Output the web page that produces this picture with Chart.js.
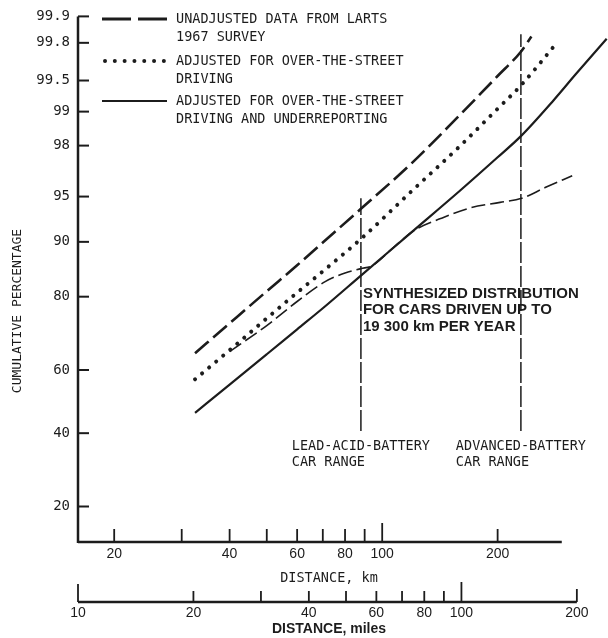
<!DOCTYPE html>
<html>
<head>
<meta charset="utf-8">
<script src="https://cdn.jsdelivr.net/npm/chart.js@4.4.1/dist/chart.umd.min.js"></script>
<style>
  html, body { margin: 0; padding: 0; background: #fff; }
  canvas { display: block; }
</style>
</head>
<body>
<canvas id="chart" width="608" height="638"></canvas>
<script>
const KM_PER_MILE = 1.609344;

const KM_TICKS = [20, 30, 40, 50, 60, 70, 80, 90, 100, 200];
const KM_LABELS = [20, 40, 60, 80, 100, 200];
const MILE_TICKS = [10, 20, 30, 40, 50, 60, 70, 80, 90, 100, 200];
const MILE_LABELS = [10, 20, 40, 60, 80, 100, 200];
const PCT_TICKS = [20, 40, 60, 80, 90, 95, 98, 99, 99.5, 99.8, 99.9];

// unadjusted data from LARTS 1967 survey (long dashes)
const lartsKm = [32.5, 40, 50, 60, 70, 88, 120, 160, 200, 230, 245];
const lartsPct = [65.1, 73.5, 81.2, 86.3, 89.9, 93.9, 97.25, 98.94, 99.55, 99.75, 99.83];
// adjusted for over-the-street driving (dots)
const streetKm = [32.5, 40, 50, 60, 70, 88, 120, 160, 200, 230, 280, 288];
const streetPct = [57.1, 66.0, 74.8, 80.9, 85.2, 90.4, 95.5, 98.0, 99.06, 99.44, 99.78, 99.81];
// adjusted for over-the-street driving and underreporting (solid)
const underKm = [32.5, 40, 50, 60, 70, 88, 120, 160, 200, 230, 280, 320, 385];
const underPct = [46.4, 55.4, 64.8, 71.9, 77.3, 84.4, 91.4, 95.5, 97.5, 98.34, 99.22, 99.57, 99.82];
// synthesized distribution for cars driven up to 19 300 km per year (thin dashes)
const synthKm = [40, 50, 60, 71, 80, 88, 94, 108, 122, 142, 170, 203, 231, 266, 313];
const synthPct = [65.6, 72.9, 78.9, 83.2, 84.9, 85.7, 86.2, 89.4, 91.6, 92.9, 94.0, 94.5, 94.85, 95.7, 96.5];
// battery car ranges (lead-acid, advanced)
const rangeKm = [88, 230];
const rangeTopPct = [94.85, 99.84];
const rangeBottomPct = 40.7;

const MIN_MILES = 10;
const MAX_KM = 328;
const KM_AXIS_END = 294;
const MILE_AXIS_END = 200;
const PCT_MIN = 13;
const PCT_MAX = 99.9;

const INK = "#1c1c1c";
const MONO = '"DejaVu Sans Mono", monospace';
const SANS = '"Liberation Sans", Arial, sans-serif';

// inverse normal CDF (Acklam) for the probability-paper y axis
const probit = (p) => {
  const a = [-39.69683028665376, 220.9460984245205, -275.9285104469687, 138.357751867269, -30.66479806614716, 2.506628277459239];
  const b = [-54.47609879822406, 161.5858368580409, -155.6989798598866, 66.80131188771972, -13.28068155288572];
  const c = [-0.007784894002430293, -0.3223964580411365, -2.400758277161838, -2.549732539343734, 4.374664141464968, 2.938163982698783];
  const d = [0.007784695709041462, 0.3224671290700398, 2.445134137142996, 3.754408661907416];
  const lo = 0.02425;
  if (p < lo || p > 1 - lo) {
    const q = Math.sqrt(-2 * Math.log(p < lo ? p : 1 - p));
    const v = (((((c[0] * q + c[1]) * q + c[2]) * q + c[3]) * q + c[4]) * q + c[5]) /
      ((((d[0] * q + d[1]) * q + d[2]) * q + d[3]) * q + 1);
    return p < lo ? v : -v;
  }
  const q = p - 0.5, r = q * q;
  return (((((a[0] * r + a[1]) * r + a[2]) * r + a[3]) * r + a[4]) * r + a[5]) * q /
    (((((b[0] * r + b[1]) * r + b[2]) * r + b[3]) * r + b[4]) * r + 1);
};

const pts = (km, pct) => km.map((k, i) => ({ x: k, y: probit(pct[i] / 100) }));

const curve = {
  pointRadius: 0,
  borderColor: INK,
  fill: false,
  clip: false,
  cubicInterpolationMode: "monotone",
};

const rangeSets = rangeKm.map((k, i) => ({
  data: [{ x: k, y: probit(rangeBottomPct / 100) }, { x: k, y: probit(rangeTopPct[i] / 100) }],
  pointRadius: 0,
  borderColor: INK,
  borderWidth: 1.5,
  borderDash: [21, 3],
  tension: 0,
  clip: false,
}));

const line = (ctx, x1, y1, x2, y2) => {
  ctx.beginPath();
  ctx.moveTo(x1, y1);
  ctx.lineTo(x2, y2);
  ctx.stroke();
};

const paperPlugin = {
  id: "paper",
  afterDraw(chart) {
    const { ctx, chartArea: area, scales } = chart;
    const { x, x2, y } = scales;
    ctx.save();
    ctx.strokeStyle = INK;
    ctx.fillStyle = INK;

    // y axis + inward ticks
    ctx.lineWidth = 2.5;
    line(ctx, area.left, area.top, area.left, area.bottom + 1);
    ctx.lineWidth = 2;
    PCT_TICKS.forEach((p) => {
      const py = y.getPixelForValue(probit(p / 100));
      line(ctx, area.left, py, area.left + 11, py);
    });

    // km axis
    const kmY = area.bottom;
    ctx.lineWidth = 2.5;
    line(ctx, area.left, kmY, x.getPixelForValue(KM_AXIS_END), kmY);
    ctx.lineWidth = 1.8;
    KM_TICKS.forEach((v) => {
      const px = x.getPixelForValue(v);
      line(ctx, px, kmY, px, kmY - (v === 100 ? 19 : 13));
    });

    // miles axis
    const miY = x2.top + 14;
    ctx.lineWidth = 2.5;
    line(ctx, x2.getPixelForValue(MIN_MILES), miY, x2.getPixelForValue(MILE_AXIS_END), miY);
    ctx.lineWidth = 1.8;
    MILE_TICKS.forEach((v) => {
      const px = x2.getPixelForValue(v);
      const len = v === 100 ? 20 : v === 10 ? 18 : v === 200 ? 13 : 11;
      line(ctx, px, miY, px, miY - len);
    });

    // y title
    ctx.save();
    ctx.translate(18, 311);
    ctx.rotate(-Math.PI / 2);
    ctx.font = `13px ${MONO}`;
    ctx.textAlign = "center";
    ctx.textBaseline = "middle";
    ctx.fillText("CUMULATIVE PERCENTAGE", 0, 0);
    ctx.restore();

    // legend
    ctx.lineCap = "butt";
    ctx.lineWidth = 3.2;
    ctx.setLineDash([29, 7]);
    line(ctx, 102, 19, 167, 19);
    ctx.lineCap = "round";
    ctx.lineWidth = 4;
    ctx.setLineDash([0.01, 9.8]);
    line(ctx, 105, 61, 164, 61);
    ctx.lineCap = "butt";
    ctx.lineWidth = 2.2;
    ctx.setLineDash([]);
    line(ctx, 102, 101, 167, 101);

    ctx.font = `13.5px ${MONO}`;
    ctx.textAlign = "left";
    ctx.textBaseline = "middle";
    const legendText = [
      ["UNADJUSTED DATA FROM LARTS", 19], ["1967 SURVEY", 37],
      ["ADJUSTED FOR OVER-THE-STREET", 61], ["DRIVING", 79],
      ["ADJUSTED FOR OVER-THE-STREET", 101], ["DRIVING AND UNDERREPORTING", 119],
    ];
    legendText.forEach(([t, ty]) => ctx.fillText(t, 176, ty));

    // range labels, centred on the range lines
    const bottomY = y.getPixelForValue(probit(rangeBottomPct / 100));
    [["LEAD-ACID-BATTERY", "CAR RANGE"], ["ADVANCED-BATTERY", "CAR RANGE"]].forEach((lines, i) => {
      const px = x.getPixelForValue(rangeKm[i]);
      const left = px - ctx.measureText(lines[0]).width / 2;
      ctx.fillText(lines[0], left, bottomY + 16);
      ctx.fillText(lines[1], left, bottomY + 32);
    });

    // synthesized distribution label
    ctx.font = `bold 15px ${SANS}`;
    const sx = x.getPixelForValue(rangeKm[0]) + 2;
    ctx.fillText("SYNTHESIZED DISTRIBUTION", sx, 294);
    ctx.fillText("FOR CARS DRIVEN UP TO", sx, 310);
    ctx.fillText("19 300 km PER YEAR", sx, 327);

    ctx.restore();
  },
};

new Chart(document.getElementById("chart"), {
  type: "line",
  data: {
    datasets: [
      { ...curve, data: pts(lartsKm, lartsPct), borderWidth: 2.6, borderDash: [18, 6] },
      { ...curve, data: pts(streetKm, streetPct), borderWidth: 4, borderDash: [0.01, 9.2], borderCapStyle: "round" },
      { ...curve, data: pts(underKm, underPct), borderWidth: 2.2 },
      { ...curve, data: pts(synthKm, synthPct), borderWidth: 1.6, borderDash: [14, 5] },
      ...rangeSets,
    ],
  },
  options: {
    responsive: false,
    animation: false,
    layout: { padding: { top: 13, right: 28, left: 0, bottom: 0 } },
    plugins: { legend: { display: false }, tooltip: { enabled: false } },
    scales: {
      x: {
        type: "logarithmic",
        position: "bottom",
        weight: 0,
        min: MIN_MILES * KM_PER_MILE,
        max: MAX_KM,
        grid: { display: false, drawTicks: false },
        border: { display: false },
        afterBuildTicks: (s) => { s.ticks = KM_TICKS.map((v) => ({ value: v })); },
        afterFit: (s) => { s.height = 46; },
        ticks: {
          autoSkip: false,
          maxRotation: 0,
          padding: 4,
          color: INK,
          font: { family: SANS, size: 14 },
          callback: (v) => (KM_LABELS.includes(v) ? String(v) : ""),
        },
        title: {
          display: true,
          text: "DISTANCE, km",
          color: INK,
          font: { family: MONO, size: 13.5 },
          padding: { top: 0, bottom: 1 },
        },
      },
      x2: {
        type: "logarithmic",
        position: "bottom",
        weight: 1,
        min: MIN_MILES,
        max: MAX_KM / KM_PER_MILE,
        grid: { display: false, drawTicks: false },
        border: { display: false },
        afterBuildTicks: (s) => { s.ticks = MILE_TICKS.map((v) => ({ value: v })); },
        afterFit: (s) => { s.height = 50; },
        ticks: {
          autoSkip: false,
          maxRotation: 0,
          padding: 17,
          color: INK,
          font: { family: SANS, size: 14 },
          callback: (v) => (MILE_LABELS.includes(v) ? String(v) : ""),
        },
        title: {
          display: true,
          text: "DISTANCE, miles",
          color: INK,
          font: { family: SANS, size: 14, weight: "bold" },
          padding: { top: 0, bottom: 0 },
        },
      },
      y: {
        type: "linear",
        min: probit(PCT_MIN / 100),
        max: probit(PCT_MAX / 100),
        grid: { display: false, drawTicks: false },
        border: { display: false },
        afterBuildTicks: (s) => { s.ticks = PCT_TICKS.map((p) => ({ value: probit(p / 100) })); },
        afterFit: (s) => { s.width = 78; },
        ticks: {
          autoSkip: false,
          padding: 8,
          color: INK,
          font: { family: MONO, size: 14 },
          callback: (v, i) => String(PCT_TICKS[i]),
        },
      },
    },
  },
  plugins: [paperPlugin],
});
</script>
</body>
</html>
